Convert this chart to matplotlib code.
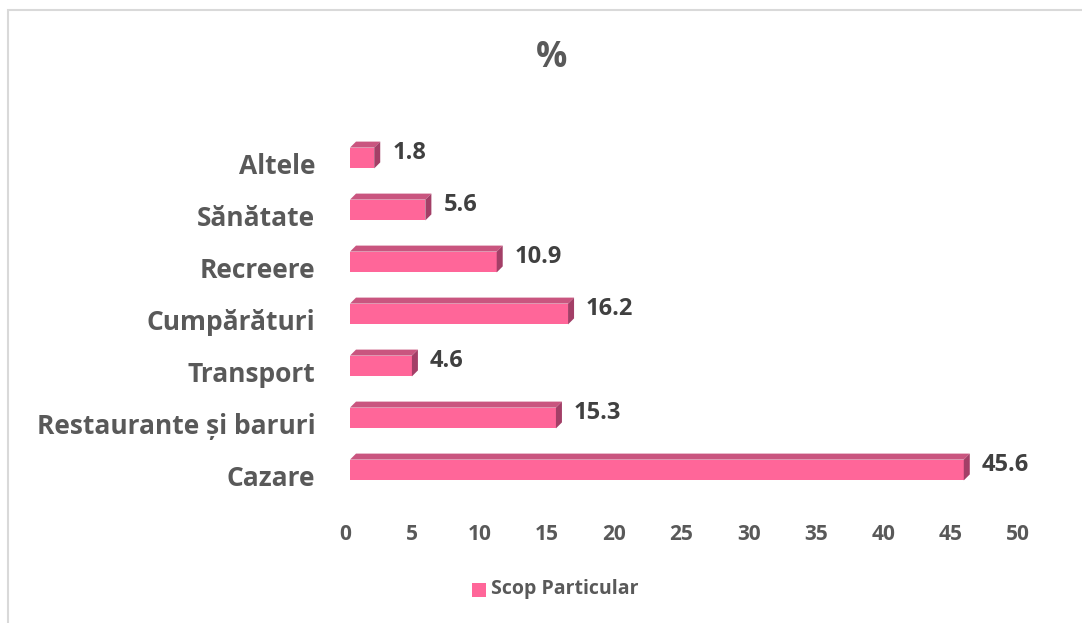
import matplotlib.pyplot as plt
import matplotlib.transforms as mtransforms
from matplotlib.patches import Polygon, Rectangle

categories = ['Cazare', 'Restaurante și baruri', 'Transport', 'Cumpărături',
              'Recreere', 'Sănătate', 'Altele']
values = [45.6, 15.3, 4.6, 16.2, 10.9, 5.6, 1.8]
ticks = [0, 5, 10, 15, 20, 25, 30, 35, 40, 45, 50]
series_name = 'Scop Particular'

front = '#FF6699'
top_c = '#C9557F'
side_c = '#A33F67'

W, H = 1082, 623
fig = plt.figure(figsize=(W / 100, H / 100), dpi=100)
fig.patches.append(Rectangle((8 / W, -0.1), 1.2, 1 - 10 / H + 0.1,
                             transform=fig.transFigure, fill=False,
                             edgecolor='#D9D9D9', linewidth=1.5))

ax = fig.add_axes([350 / W, 1 - 496 / H, 673 / W, 364 / H])
ax.set_xlim(0, 50)
ax.set_ylim(-0.5, 6.5)

font = 'Open Sans'
bh = 0.40
dx = 6 / 13.46   # depth in data units
dy = 6 / 52.0

for i, v in enumerate(values):
    y0, y1 = i - bh / 2, i + bh / 2
    ax.add_patch(Rectangle((0, y0), v, bh, facecolor=front, edgecolor='none'))
    ax.add_patch(Polygon([(0, y1), (v, y1), (v + dx, y1 + dy), (dx, y1 + dy)],
                         facecolor=top_c, edgecolor='none'))
    ax.add_patch(Polygon([(v, y0), (v + dx, y0 + dy), (v + dx, y1 + dy), (v, y1)],
                         facecolor=side_c, edgecolor='none'))
    ax.annotate(f'{v}', xy=(v + dx, i + 0.1), xytext=(12, 0),
                textcoords='offset pixels', va='center', ha='left',
                fontsize=17, fontweight='bold', color='#404040', family=font)

ax.set_yticks(range(len(categories)))
ax.set_yticklabels(categories, fontsize=19, fontweight='bold', color='#595959',
                   family=font)
ax.set_xticks(ticks)
ax.set_xticklabels([str(t) for t in ticks], fontsize=15, fontweight='bold',
                   color='#595959', family=font)
ax.tick_params(axis='y', length=0, pad=25)
ax.tick_params(axis='x', length=0, pad=20)
for lab in ax.get_yticklabels():
    lab.set_transform(lab.get_transform() +
                      mtransforms.ScaledTranslation(0, -5 / 100, fig.dpi_scale_trans))
for lab in ax.get_xticklabels():
    lab.set_transform(lab.get_transform() +
                      mtransforms.ScaledTranslation(-5 / 100, 0, fig.dpi_scale_trans))
for s in ax.spines.values():
    s.set_visible(False)

fig.text(552 / W, 1 - 58 / H, '%', ha='center', va='center', fontsize=25,
         fontweight='bold', color='#595959', family=font)

fig.patches.append(Rectangle((472 / W, 1 - 597 / H), 14 / W, 14 / H,
                             transform=fig.transFigure, facecolor=front,
                             edgecolor='none'))
fig.text(491 / W, 1 - 589 / H, series_name, ha='left', va='center', fontsize=14,
         fontweight='bold', color='#595959', family=font)

fig.savefig('out.png', dpi=100)
